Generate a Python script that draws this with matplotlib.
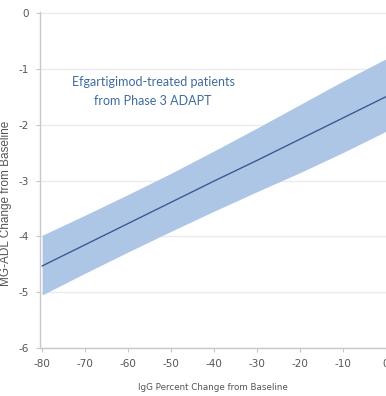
import numpy as np
import matplotlib
matplotlib.use('Agg')
import matplotlib.pyplot as plt

# IgG percent change vs MG-ADL change (regression line with confidence band)
igg_change = [-80, -70, -60, -50, -40, -30, -20, -10, 0]
mgadl_fit = [-4.53, -4.15, -3.77, -3.39, -3.01, -2.64, -2.26, -1.88, -1.50]
mgadl_upper = [-3.98, -3.62, -3.25, -2.87, -2.47, -2.06, -1.64, -1.22, -0.82]
mgadl_lower = [-5.05, -4.66, -4.28, -3.91, -3.55, -3.20, -2.86, -2.50, -2.12]

x_ticks = [-80, -70, -60, -50, -40, -30, -20, -10, 0]
y_ticks = [0, -1, -2, -3, -4, -5, -6]

plt.rcParams['font.family'] = ['Liberation Sans Narrow', 'DejaVu Sans']

fig = plt.figure(figsize=(3.86, 3.96), dpi=100)
ax = fig.add_axes([40 / 386, 48 / 396, 347 / 386, 336 / 396])

ax.fill_between(igg_change, mgadl_lower, mgadl_upper, color='#aec6e6', lw=0)
ax.plot(igg_change, mgadl_fit, color='#3d5a8f', lw=1.0)

ax.set_xlim(-80.5, 0.3)
ax.set_ylim(-6.0, 0.02)
ax.set_xticks(x_ticks)
ax.set_yticks(y_ticks)
ax.set_xticklabels([str(v) for v in x_ticks])
ax.set_yticklabels([str(v) for v in y_ticks])

ax.grid(axis='y', color='#ebebeb', lw=1.0)
ax.set_axisbelow(True)
for s in ['top', 'right']:
    ax.spines[s].set_visible(False)
for s in ['left', 'bottom']:
    ax.spines[s].set_color('#c8c8c8')
    ax.spines[s].set_linewidth(1.0)
ax.tick_params(colors='#c8c8c8', labelcolor='#555555', labelsize=7.5, length=3, pad=5)

ax.set_xlabel('IgG Percent Change from Baseline', fontsize=6.3, color='#555555')
ax.xaxis.set_label_coords((213 - 40) / 347, -35 / 336)
ax.set_ylabel('MG-ADL Change from Baseline', fontsize=8.5, color='#555555',
              family=['Liberation Sans', 'DejaVu Sans'])
ax.yaxis.set_label_coords((12 - 40) / 347, (348 - 203) / 336)

ax.text(-54.2, -1.40, 'Efgartigimod-treated patients\nfrom Phase 3 ADAPT',
        ha='center', va='center', fontsize=9, color='#3f6c9c',
        family=['Lato', 'DejaVu Sans'], linespacing=1.75)

fig.savefig('out.png', dpi=100)
